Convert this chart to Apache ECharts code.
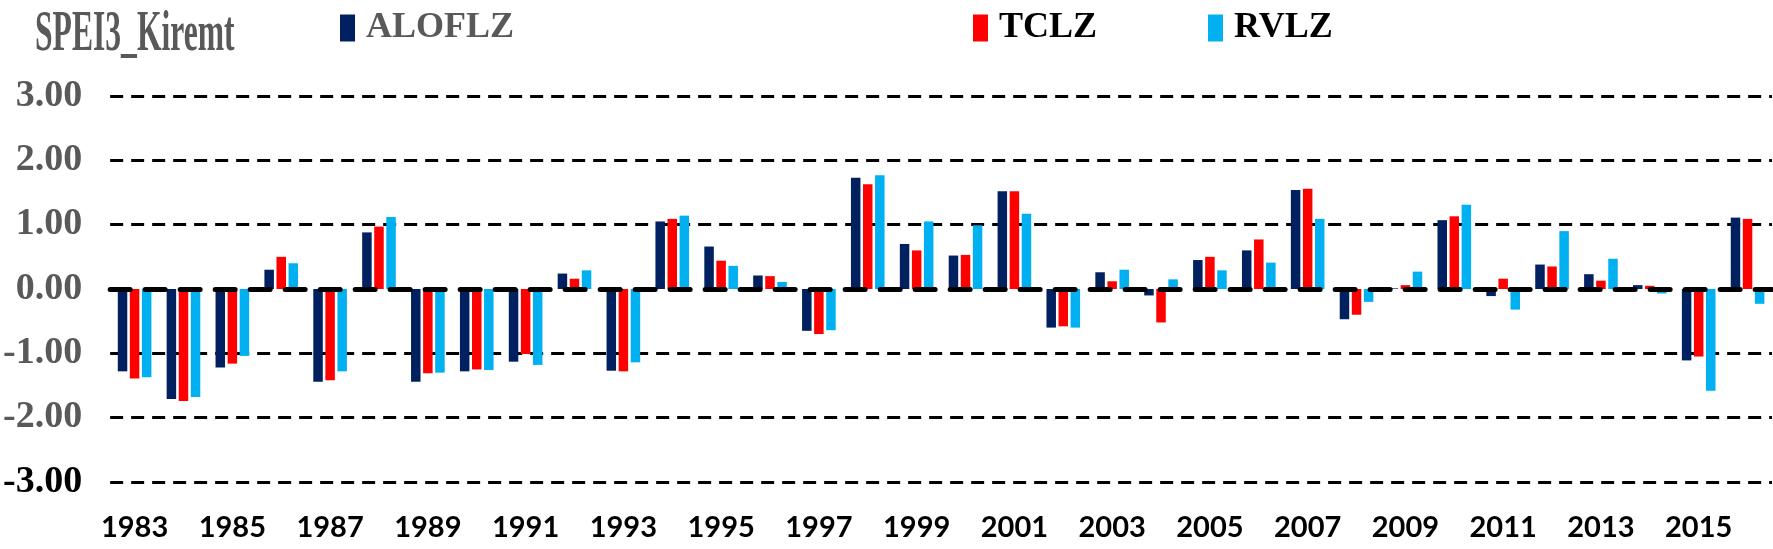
<!DOCTYPE html>
<html>
<head>
<meta charset="utf-8">
<script src="https://cdn.jsdelivr.net/npm/echarts@6/dist/echarts.min.js"></script>
<style>
  html, body { margin: 0; padding: 0; background: #ffffff; }
  #chart { width: 1773px; height: 549px; }
</style>
</head>
<body>
<div id="chart"></div>
<script>
const years = ['1983','1984','1985','1986','1987','1988','1989','1990','1991','1992','1993','1994','1995','1996','1997','1998','1999','2000','2001','2002','2003','2004','2005','2006','2007','2008','2009','2010','2011','2012','2013','2014','2015','2016'];
const seriesNames = ['ALOFLZ', 'TCLZ', 'RVLZ'];
const aloflz = [-1.28,-1.71,-1.22,0.30,-1.44,0.88,-1.44,-1.28,-1.13,0.24,-1.27,1.05,0.66,0.21,-0.65,1.73,0.70,0.52,1.52,-0.60,0.26,-0.10,0.45,0.60,1.54,-0.47,0.01,1.07,-0.11,0.38,0.23,0.06,-1.11,1.11];
const tclz   = [-1.39,-1.74,-1.16,0.50,-1.42,0.97,-1.31,-1.25,-1.01,0.16,-1.28,1.09,0.44,0.20,-0.70,1.63,0.60,0.53,1.52,-0.58,0.12,-0.52,0.50,0.77,1.56,-0.40,0.06,1.13,0.16,0.35,0.13,0.05,-1.05,1.09];
const rvlz   = [-1.37,-1.68,-1.04,0.40,-1.28,1.12,-1.30,-1.26,-1.18,0.29,-1.14,1.14,0.36,0.11,-0.64,1.77,1.05,0.99,1.17,-0.60,0.30,0.15,0.29,0.41,1.09,-0.20,0.27,1.31,-0.32,0.90,0.47,-0.07,-1.58,-0.23];
const yTicks = [-3, -2, -1, 0, 1, 2, 3];
const titleText = 'SPEI3_Kiremt';

const colors = ['#002060', '#FF0000', '#00B0F0'];
const legendTextColors = ['#595959', '#000000', '#000000'];
const legendLefts = [340, 973, 1208];
const serifFont = "'Liberation Serif', serif";

const chart = echarts.init(document.getElementById('chart'), null, { renderer: 'canvas' });

const legends = seriesNames.map((n, i) => ({
  left: legendLefts[i],
  top: 10,
  padding: 0,
  itemWidth: 15,
  itemHeight: 27,
  icon: 'rect',
  selectedMode: false,
  data: [{ name: n, textStyle: { color: legendTextColors[i] } }],
  textStyle: {
    fontFamily: serifFont,
    fontWeight: 'bold',
    fontSize: 36,
    padding: [0, 0, 0, 6]
  }
}));

const dataSets = [aloflz, tclz, rvlz];

chart.setOption({
  animation: false,
  backgroundColor: '#ffffff',
  graphic: [{
    type: 'text',
    x: 35,
    y: 6,
    scaleX: 0.545,
    scaleY: 1,
    silent: true,
    style: {
      text: titleText,
      fill: '#595959',
      font: "bold 58px 'Liberation Serif', serif",
      verticalAlign: 'top',
      align: 'left'
    }
  }],
  legend: legends,
  grid: {
    left: 109,
    right: 1,
    top: 96,
    bottom: 67,
    containLabel: false
  },
  xAxis: [
    {
      type: 'category',
      data: years,
      position: 'bottom',
      boundaryGap: true,
      axisLine: { show: false, onZero: false },
      axisTick: { show: false },
      splitLine: { show: false },
      axisLabel: {
        interval: 1,
        margin: 31,
        color: '#000000',
        fontFamily: 'Lato',
        fontWeight: 'bold',
        fontSize: 29
      }
    },
    {
      type: 'category',
      data: years,
      position: 'top',
      z: 10,
      axisLine: {
        show: true,
        onZero: true,
        lineStyle: { color: '#000000', width: 5, type: [20, 15] }
      },
      axisTick: { show: false },
      axisLabel: { show: false },
      splitLine: { show: false }
    }
  ],
  yAxis: {
    type: 'value',
    min: yTicks[0],
    max: yTicks[yTicks.length - 1],
    interval: 1,
    axisLine: { show: false },
    axisTick: { show: false },
    splitLine: {
      show: true,
      lineStyle: {
        color: yTicks.map(v => v === 0 ? 'rgba(0,0,0,0)' : '#000000'),
        width: 3,
        type: [13, 8]
      }
    },
    axisLabel: {
      margin: 28,
      formatter: v => v.toFixed(2),
      color: (v) => (Number(v) === -3 ? '#000000' : '#595959'),
      fontFamily: serifFont,
      fontWeight: 'bold',
      fontSize: 38
    }
  },
  series: dataSets.map((d, i) => ({
    name: seriesNames[i],
    type: 'bar',
    xAxisIndex: 0,
    data: d,
    barWidth: 9.5,
    barGap: '27%',
    itemStyle: { color: colors[i] }
  }))
});
</script>
</body>
</html>
